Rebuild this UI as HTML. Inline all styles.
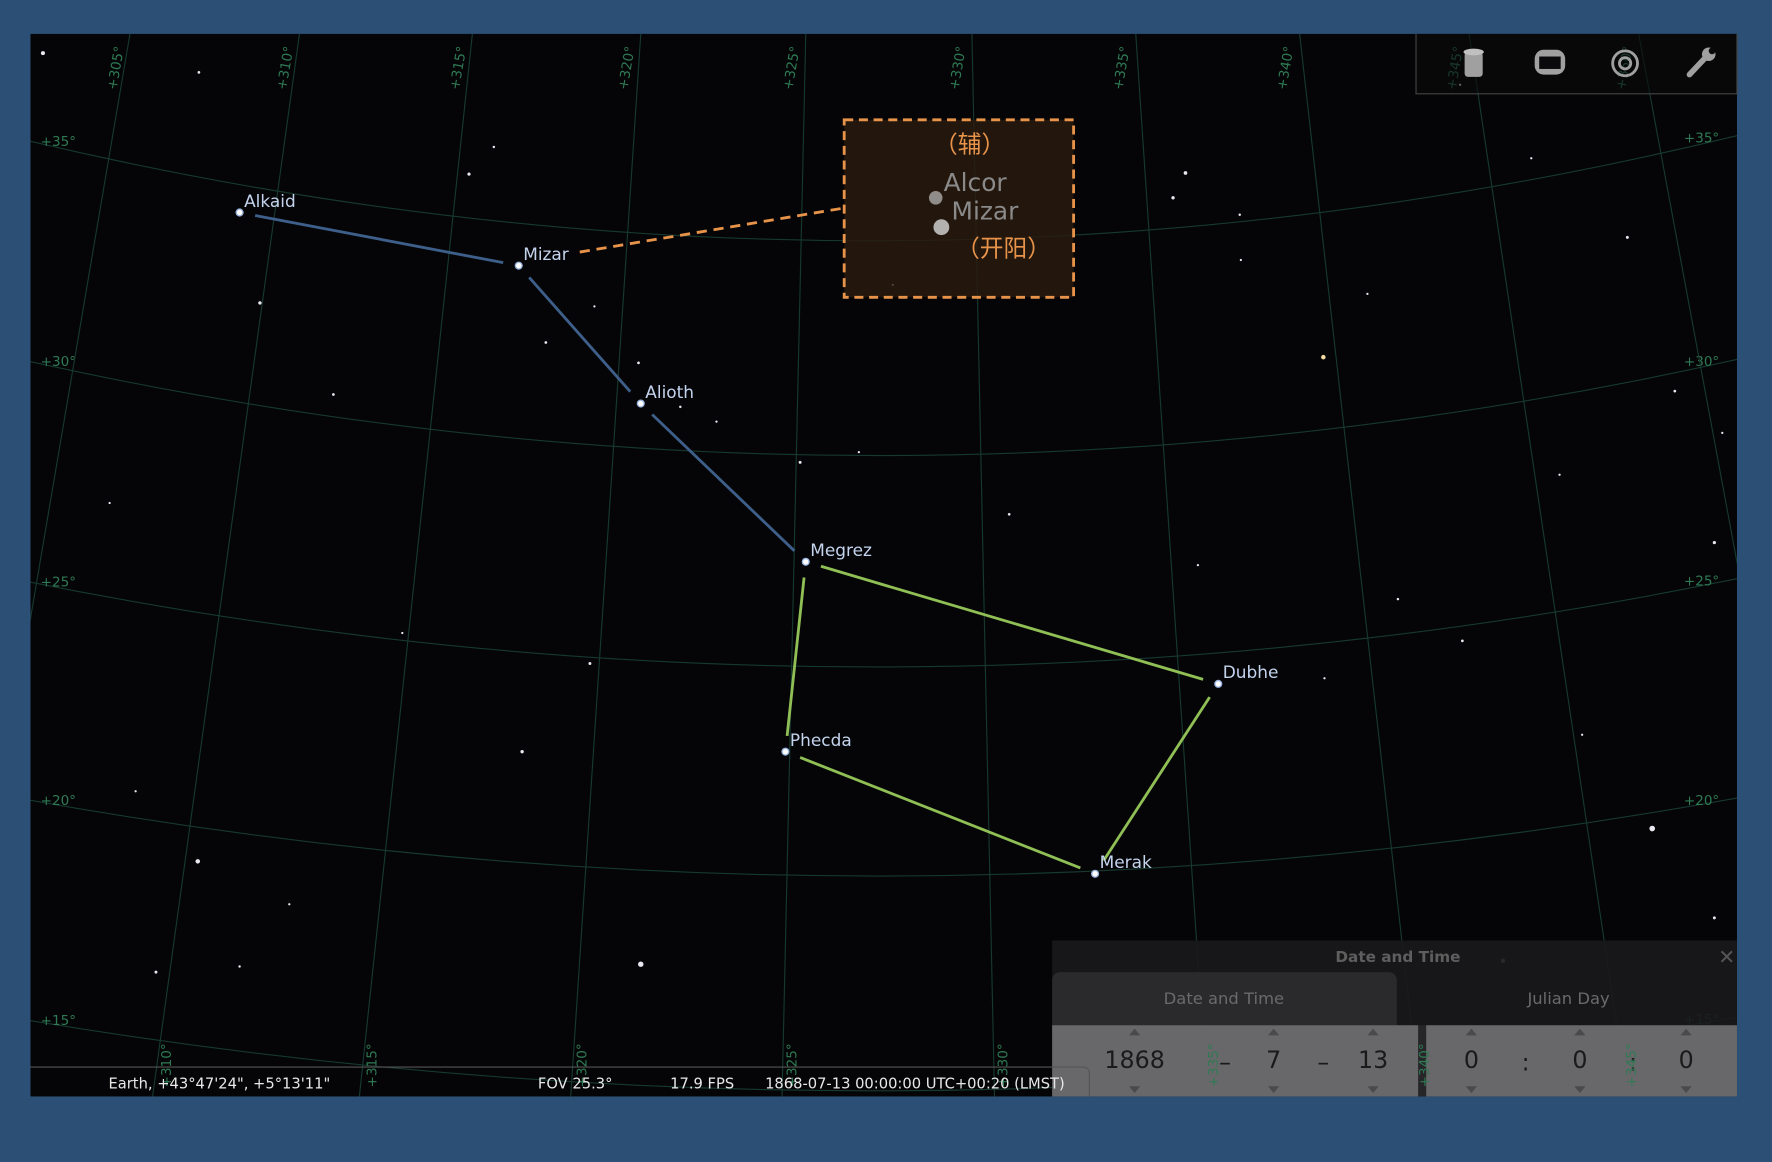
<!DOCTYPE html>
<html><head><meta charset="utf-8"><style>
html,body{margin:0;padding:0;background:#2c4f75;}
svg{display:block;}
text{font-family:"DejaVu Sans","Liberation Sans","Noto Sans CJK SC",sans-serif;}
</style></head><body>
<svg id="sky" width="1772" height="1162" viewBox="0 0 1568 1028" preserveAspectRatio="none" xmlns="http://www.w3.org/2000/svg">
<defs><clipPath id="skyclip"><rect x="27" y="30" width="1510" height="940"/></clipPath></defs>
<rect x="0" y="0" width="1568" height="1028" fill="#2c4f75"/>
<rect x="27" y="30" width="1510" height="940" fill="#050507"/>
<g clip-path="url(#skyclip)">
<g id="grid"></g>
<g id="bgstars"></g>
<g id="lines"></g>
<g id="stars"></g>
<line x1="513" y1="223" x2="747" y2="184" stroke="#e8934a" stroke-width="2.5" stroke-dasharray="9,6"/>
<g>
<rect x="747" y="106" width="203" height="157" fill="#2a1a0e" fill-opacity="0.8" stroke="#e8934a" stroke-width="2.5" stroke-dasharray="8,5"/>
<text x="858" y="135" font-size="21" fill="#e8934a" text-anchor="middle">（辅）</text>
<circle cx="828" cy="175" r="6" fill="#aaa" opacity="0.8"/>
<circle cx="833" cy="201" r="7" fill="#ccc" opacity="0.85"/>
<text x="835" y="169" font-size="22" fill="#8a8a8a">Alcor</text>
<text x="842" y="194" font-size="22" fill="#8a8a8a">Mizar</text>
<text x="888" y="227" font-size="21" fill="#e8934a" text-anchor="middle">（开阳）</text>
</g>
</g>
<g>
<path d="M1253,30 V83 H1537 V30" fill="#0a0a0c" fill-opacity="0.6" stroke="#444" stroke-width="1"/>
<g><rect x="1296" y="46" width="16" height="22" rx="3" fill="#a0a0a0"/><ellipse cx="1304" cy="46" rx="9" ry="3" fill="#c0c0c0"/></g>
<g><rect x="1358" y="44" width="27" height="22" rx="8" fill="#a0a0a0"/><rect x="1362" y="50" width="19" height="11" fill="#0a0a0c"/></g>
<g fill="none" stroke="#a0a0a0" stroke-width="2.5"><circle cx="1438" cy="56" r="11"/><circle cx="1438" cy="56" r="5"/></g>
<g><line x1="1495" y1="66" x2="1510" y2="50" stroke="#a0a0a0" stroke-width="5" stroke-linecap="round"/><circle cx="1512" cy="48" r="6" fill="#a0a0a0"/><circle cx="1515" cy="45" r="3" fill="#0a0a0c"/></g>
</g>
<g>
<rect x="931" y="832" width="606" height="138" fill="#19191b" opacity="0.93"/>
<text x="1237" y="851" font-size="13.5" font-weight="bold" fill="#5e5e5e" text-anchor="middle">Date and Time</text>
<text x="1528" y="853" font-size="18" font-weight="bold" fill="#555" text-anchor="middle">✕</text>
<path d="M931,907 V868 Q931,860 939,860 H1228 Q1236,860 1236,868 V907 Z" fill="#2a2a2c"/>
<text x="1083" y="888" font-size="14.5" fill="#6a6a6a" text-anchor="middle">Date and Time</text>
<text x="1388" y="888" font-size="14.5" fill="#6a6a6a" text-anchor="middle">Julian Day</text>
<rect x="931" y="907" width="324" height="63" fill="#68686a"/>
<rect x="1255" y="907" width="7" height="63" fill="#262628"/>
<rect x="1262" y="907" width="275" height="63" fill="#68686a"/>
<g id="spins"></g>
<g id="overgrid" clip-path="url(#skyclip)"></g>
</g>
<g>
<path d="M27,944 H958 Q964,944 964,950 V970" fill="none" stroke="#555" stroke-width="1"/>
<text x="96" y="963" font-size="13" fill="#e8e8e8">Earth, +43°47'24", +5°13'11"</text>
<text x="476" y="963" font-size="13" fill="#e8e8e8">FOV 25.3°</text>
<text x="593" y="963" font-size="13" fill="#e8e8e8">17.9 FPS</text>
<text x="677" y="963" font-size="13" fill="#e8e8e8">1868-07-13 00:00:00 UTC+00:20 (LMST)</text>
</g>
</svg>
<script>
var NS="http://www.w3.org/2000/svg";
function mk(tag,attrs,parent){var e=document.createElementNS(NS,tag);for(var k in attrs)e.setAttribute(k,attrs[k]);parent.appendChild(e);return e;}
// grid data
var latLabels=["+35°","+30°","+25°","+20°","+15°"];
var latLeftY=[125,320,515,708,903];
var latMidY=[213,403,590,775,965];
var latRightY=[120,318,512,706,900];
var lonLabels=["+305°","+310°","+315°","+320°","+325°","+330°","+335°","+340°","+345°","+350°"];
var lonTopX=[115,265,418,567,713,860,1005,1150,1300,1450];
var lonBotX=[-45,135,318,505,692,880,1068,1256,1440,1625];
var grid=document.getElementById('grid');
var og=document.getElementById('overgrid');
var gc="#16392f";
for(var i=0;i<latLabels.length;i++){
 var p=mk('path',{d:"M27,"+latLeftY[i]+" Q782,"+(2*latMidY[i]-(latLeftY[i]+latRightY[i])/2)+" 1537,"+latRightY[i],fill:"none",stroke:gc,"stroke-width":1},grid);
 
 
 var t=mk('text',{x:36,y:latLeftY[i]+4,"font-size":12,fill:"#2f7a55"},grid);t.textContent=latLabels[i];
 
 
 var t2=mk('text',{x:1490,y:latRightY[i]+6,"font-size":12,fill:"#2f7a55"},grid);t2.textContent=latLabels[i];
 
 
}
for(var j=0;j<lonLabels.length;j++){
 var l=mk('line',{x1:lonTopX[j],y1:30,x2:lonBotX[j],y2:970,stroke:gc,"stroke-width":1},grid);
 
 
 var tx=lonTopX[j]-12;
 var tt=mk('text',{x:0,y:0,"font-size":12,fill:"#2f7a55",transform:"translate("+tx+",80) rotate(-80)"},grid);tt.textContent=lonLabels[j];
 
 
 var bx0=lonBotX[j]+(lonTopX[j]-lonBotX[j])*(30/940)+12;
 if(bx0>60&&bx0<1500){
  var tb=mk('text',{x:0,y:0,"font-size":12,fill:"#2f7a55",transform:"translate("+bx0+",962) rotate(-90)"},og);tb.textContent=lonLabels[j];
  
  
 }
}
// background stars
var bgX=[38,176,230,295,415,437,483,526,565,602,634,708,760,790,893,1038,1049,1097,1171,1440,1462,1482,1517,1524,1517,1294,1237,1330,1172,1380,1400,175,138,97,567,522,462,356,256,212,120,1355,1210,1098,1292,1060];
var bgY=[47,64,268,349,154,130,303,271,321,360,373,409,400,252,455,175,153,190,316,210,733,346,480,383,812,567,530,850,600,420,650,762,860,445,853,587,665,560,800,855,700,140,260,230,75,500];
var bgR=[1.8,1.2,1.5,1.2,1.4,1.1,1.2,1,1.2,1.1,1,1.3,1,1,1.2,1.5,1.6,1.1,2,1.3,2.5,1.2,1.4,1,1.3,1.2,1.1,2,1,1,1,2,1.3,1,2.4,1.3,1.5,1,1,1.1,1,1,1,1,1,1];
var bg=document.getElementById('bgstars');
for(var b=0;b<bgX.length;b++){
 var c=mk('circle',{cx:bgX[b],cy:bgY[b],r:bgR[b],fill:b==18?"#f4d9a0":"#e8e8f0"},bg);
 
 
}
// named stars
var starNames=["Alkaid","Mizar","Alioth","Megrez","Dubhe","Phecda","Merak"];
var starX=[212,459,567,713,1078,695,969];
var starY=[188,235,357,497,605,665,773];
var linkFrom=[0,1,2,3,3,5,6];
var linkTo=[1,2,3,4,5,6,4];
var linkColor=["#3e5f8a","#3e5f8a","#3e5f8a","#8fbf55","#8fbf55","#8fbf55","#8fbf55"];
var lg=document.getElementById('lines');
for(var k=0;k<linkFrom.length;k++){
 var ax=starX[linkFrom[k]],ay=starY[linkFrom[k]],bx=starX[linkTo[k]],by=starY[linkTo[k]];
 var dx=bx-ax,dy=by-ay,d=Math.sqrt(dx*dx+dy*dy),g=14;
 var ln=mk('line',{x1:ax+dx/d*g,y1:ay+dy/d*g,x2:bx-dx/d*g,y2:by-dy/d*g,stroke:linkColor[k],"stroke-width":2.5},lg);
 
 
}
var sg=document.getElementById('stars');
for(var s=0;s<starNames.length;s++){
 var sc=mk('circle',{cx:starX[s],cy:starY[s],r:3,fill:"#fff",stroke:"#9ab4e0","stroke-width":1.2},sg);
 
 
 var st=mk('text',{x:starX[s]+4,y:starY[s]-5,"font-size":15,fill:"#c4d4ee"},sg);st.textContent=starNames[s];
 
 
}
// spin fields
var spinVals=["1868","7","13","0","0","0"];
var spinX=[1004,1127,1215,1302,1398,1492];
var sepVals=["–","–",":",":"];
var sepX=[1084,1171,1350,1445];
var sp=document.getElementById('spins');
for(var q=0;q<spinVals.length;q++){
 var v=mk('text',{x:spinX[q],y:945,"font-size":21,fill:"#1a1a1a","text-anchor":"middle"},sp);v.textContent=spinVals[q];
 
 
 var up=mk('path',{d:"M"+(spinX[q]-5)+",916 l5,-6 l5,6 z",fill:"#4a4a4c"},sp);
 
 
 var dn=mk('path',{d:"M"+(spinX[q]-5)+",961 l5,6 l5,-6 z",fill:"#4a4a4c"},sp);
 
 
}
for(var r=0;r<sepVals.length;r++){
 var se=mk('text',{x:sepX[r],y:947,"font-size":21,fill:"#1a1a1a","text-anchor":"middle"},sp);se.textContent=sepVals[r];
 
 
}
</script>
</body></html>
